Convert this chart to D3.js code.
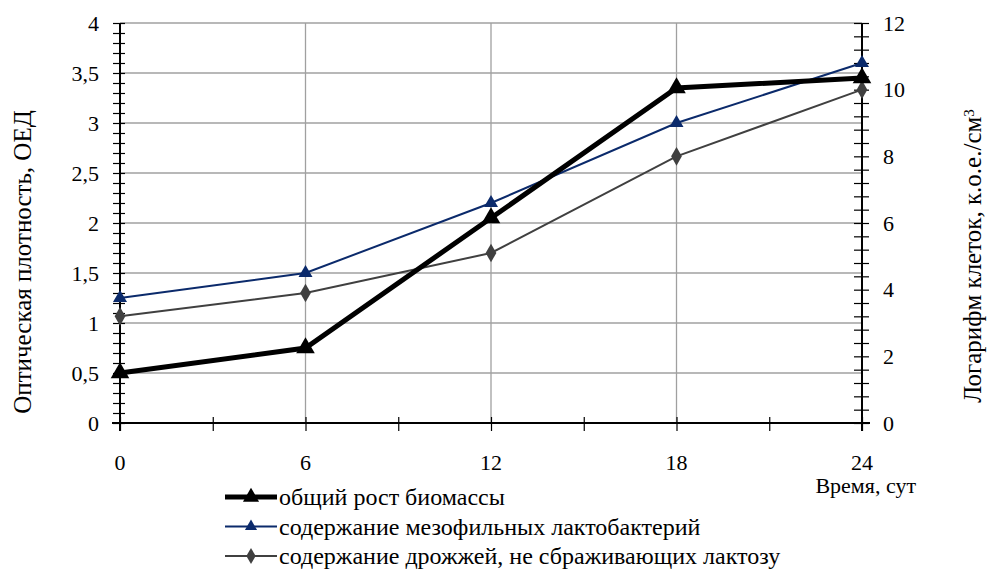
<!DOCTYPE html>
<html>
<head>
<meta charset="utf-8">
<script src="https://cdn.jsdelivr.net/npm/d3@7"></script>
<style>
  body { margin: 0; background: #fff; }
  text { font-family: "Liberation Serif", "Times New Roman", serif; fill: #000; }
</style>
</head>
<body>
<div id="chart"></div>
<script>
// data
var hours = [0, 6, 12, 18, 24];
var biomass = [0.5, 0.75, 2.05, 3.35, 3.45];      // left axis, ОЕД
var lactobacteria = [3.75, 4.5, 6.6, 9.0, 10.8];  // right axis, log
var yeasts = [3.2, 3.9, 5.1, 8.0, 10.0];          // right axis, log
var xTicks = [0, 6, 12, 18, 24];
var leftTicks = [0, 0.5, 1, 1.5, 2, 2.5, 3, 3.5, 4];
var rightTicks = [0, 2, 4, 6, 8, 10, 12];
var legendNames = ["общий рост биомассы", "содержание мезофильных лактобактерий", "содержание дрожжей, не сбраживающих лактозу"];

var W = 987, H = 572;
var pLeft = 120, pRight = 862, pTop = 23, pBottom = 423;

var svg = d3.select("#chart").append("svg")
  .attr("width", W).attr("height", H);

var x = d3.scaleLinear().domain([0, 24]).range([pLeft, pRight]);
var yL = d3.scaleLinear().domain([0, 4]).range([pBottom, pTop]);
var yR = d3.scaleLinear().domain([0, 12]).range([pBottom, pTop]);

var fmt = function(d) { return String(d).replace(".", ","); };

// grid
svg.append("g").selectAll("line").data(leftTicks.slice(1)).join("line")
  .attr("x1", pLeft).attr("x2", pRight)
  .attr("y1", function(d) { return yL(d); }).attr("y2", function(d) { return yL(d); })
  .attr("stroke", "#a0a0a0").attr("stroke-width", 1.3);
svg.append("g").selectAll("line").data([6, 12, 18]).join("line")
  .attr("x1", function(d) { return x(d); }).attr("x2", function(d) { return x(d); })
  .attr("y1", pTop).attr("y2", pBottom)
  .attr("stroke", "#a0a0a0").attr("stroke-width", 1.3);

// axes with crossing ticks
function crossTicks(g, a, b) {
  g.selectAll(".tick line").attr(a, b);
  g.selectAll(".tick text").remove();
  g.select(".domain").remove();
}

var gL = svg.append("g").attr("transform", "translate(" + pLeft + ",0)");
gL.call(d3.axisLeft(yL).tickValues(d3.range(0, 4.001, 0.1)).tickSize(7)).call(crossTicks, "x1", 5);
gL.append("line").attr("x1", 0).attr("x2", 0).attr("y1", pTop).attr("y2", pBottom + 8)
  .attr("stroke", "#000").attr("stroke-width", 2);

var gR = svg.append("g").attr("transform", "translate(" + pRight + ",0)");
gR.call(d3.axisRight(yR).tickValues(d3.range(0, 12.01, 0.4)).tickSize(7)).call(crossTicks, "x1", -8);
gR.append("line").attr("x1", 0).attr("x2", 0).attr("y1", pTop).attr("y2", pBottom + 8)
  .attr("stroke", "#000").attr("stroke-width", 2);

var gX = svg.append("g").attr("transform", "translate(0," + pBottom + ")");
gX.call(d3.axisBottom(x).tickValues(d3.range(0, 24.1, 3)).tickSize(8)).call(crossTicks, "y1", -6);
gX.append("line").attr("x1", pLeft - 8).attr("x2", pRight + 8).attr("y1", 0).attr("y2", 0)
  .attr("stroke", "#000").attr("stroke-width", 2);
svg.selectAll(".tick line").attr("stroke", "#000").attr("stroke-width", 1.2);

// labels
function label(g, tx, ty, str, anchor, size, rot) {
  return g.append("text")
    .attr("transform", "translate(" + tx + "," + ty + ")" + (rot ? " rotate(" + rot + ")" : ""))
    .attr("text-anchor", anchor || "middle")
    .attr("dy", "0.35em")
    .attr("font-size", size)
    .text(str);
}
leftTicks.forEach(function(d) { label(svg, 99, yL(d), fmt(d), "end", 22); });
rightTicks.forEach(function(d) { label(svg, 883, yR(d), fmt(d), "start", 22); });
xTicks.forEach(function(d) { label(svg, x(d), 462, fmt(d), "middle", 22); });

label(svg, 916, 485, "Время, сут", "end", 22);
label(svg, 22, 262, "Оптическая плотность, ОЕД", "middle", 25, -90);
var rt = label(svg, 972, 256, "Логарифм клеток, к.о.е./см", "middle", 25, -90);
rt.append("tspan").attr("dy", "-0.45em").attr("font-size", 15).text("3");

// series
var series = [
  { name: legendNames[0], values: biomass, y: yL, color: "#000000", width: 5, shape: d3.symbolTriangle, size: 150 },
  { name: legendNames[1], values: lactobacteria, y: yR, color: "#0b2a6b", width: 2, shape: d3.symbolTriangle, size: 85 },
  { name: legendNames[2], values: yeasts, y: yR, color: "#404040", width: 2, shape: d3.symbolDiamond, size: 100 }
];

series.slice().reverse().forEach(function(s) {
  var pts = hours.map(function(h, i) { return [x(h), s.y(s.values[i])]; });
  svg.append("path")
    .datum(pts)
    .attr("fill", "none")
    .attr("stroke", s.color)
    .attr("stroke-width", s.width)
    .attr("stroke-linejoin", "miter")
    .attr("d", d3.line());
  svg.append("g").selectAll("path").data(pts).join("path")
    .attr("transform", function(d) { return "translate(" + d[0] + "," + d[1] + ")"; })
    .attr("d", d3.symbol().type(s.shape).size(s.size))
    .attr("fill", s.color);
});

// legend
var legend = svg.append("g");
series.forEach(function(s, i) {
  var ly = 497 + i * 29.5;
  legend.append("line").attr("x1", 225).attr("x2", 277).attr("y1", ly).attr("y2", ly)
    .attr("stroke", s.color).attr("stroke-width", s.width);
  legend.append("path")
    .attr("transform", "translate(251," + ly + ")")
    .attr("d", d3.symbol().type(s.shape).size(s.size * 0.75))
    .attr("fill", s.color);
  label(legend, 279, ly, s.name, "start", 24);
});
</script>
</body>
</html>
